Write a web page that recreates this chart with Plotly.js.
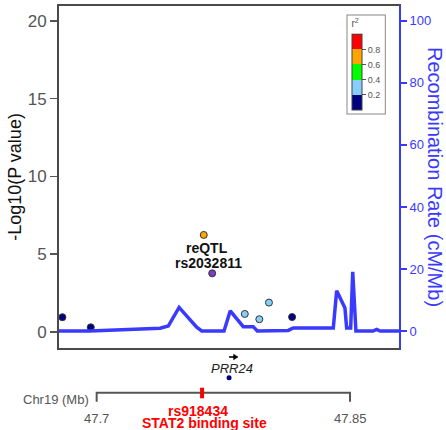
<!DOCTYPE html>
<html>
<head>
<meta charset="utf-8">
<script src="https://cdn.plot.ly/plotly-3.0.1.min.js"></script>
<style>html,body{margin:0;padding:0;background:#fff;}#chart{width:446px;height:430px;}</style>
</head>
<body>
<div id="chart"></div>
<script>
// ---- data ----
var snpPos   = [47.6797, 47.6965, 47.7634, 47.7877, 47.7963, 47.8020, 47.8157];
var snpLogP  = [0.95, 0.30, 6.24, 1.16, 0.82, 1.89, 0.96];
var snpR2    = [0.1, 0.1, 0.7, 0.3, 0.3, 0.3, 0.1];

var leadName = "rs2032811";
var leadLabel = "reQTL";
var leadPos  = [47.7684];
var leadLogP = [3.77];

var recPos  = [47.6777, 47.6960, 47.7375, 47.7424, 47.7488, 47.7592, 47.7622, 47.7754, 47.7791, 47.7868, 47.7927, 47.7951, 47.8134, 47.8164, 47.8401, 47.8421, 47.8470, 47.8480, 47.8504, 47.8516, 47.8535, 47.8636, 47.8658, 47.8678, 47.8790];
var recRate = [0, 0, 0.9, 1.6, 7.6, 1.2, 0, 0, 6.5, 1.4, 1.4, 0, 0.2, 1.0, 1.0, 13.0, 7.4, 1.0, 1.0, 19.1, 0, 0, 0.5, 0, 0];

var geneName = "PRR24";
var genePos = 47.7784;

var chrLabel = "Chr19 (Mb)";
var chrTicks = [47.7, 47.85];
var chrTickText = ["47.7", "47.85"];

var tfbsPos = 47.7624;
var tfbsName = "rs918434";
var tfbsDesc = "STAT2 binding site";

var pTicks = [0, 5, 10, 15, 20];
var recTicks = [0, 20, 40, 60, 80, 100];
var r2Ticks = [0.2, 0.4, 0.6, 0.8];
var r2Colors = ["#000080", "#87CEFA", "#00FF00", "#FFA500", "#FF0000"];

// ---- build ----
var blue = "rgb(58,58,255)";
var grey = "#555555";
var FONT = "Liberation Sans, Arial, sans-serif";

var cs = [];
for (var i = 0; i < r2Colors.length; i++) {
  cs.push([i / r2Colors.length, r2Colors[i]]);
  cs.push([(i + 1) / r2Colors.length, r2Colors[i]]);
}

var traces = [
  {
    x: recPos, y: recRate, yaxis: "y2", type: "scatter", mode: "lines",
    line: {color: blue, width: 3.5}, hoverinfo: "skip", showlegend: false
  },
  {
    x: snpPos, y: snpLogP, type: "scatter", mode: "markers", showlegend: false,
    marker: {
      size: 7, color: snpR2, cmin: 0, cmax: 1, colorscale: cs,
      line: {color: "#333", width: 1},
      showscale: true,
      colorbar: {
        x: 0.850, xanchor: "left", y: 0.9737, yanchor: "top",
        lenmode: "pixels", len: 97, thickness: 10, xpad: 4, ypad: 2,
        outlinewidth: 1, outlinecolor: "#444",
        bgcolor: "#fff", bordercolor: "#888", borderwidth: 1,
        tickvals: r2Ticks, ticktext: r2Ticks.map(function(v){return v.toFixed(1);}),
        ticks: "outside", ticklen: 4, tickcolor: grey, tickwidth: 1,
        tickfont: {family: FONT, size: 9, color: grey},
        title: {text: "r<sup>2</sup>", side: "top", font: {family: FONT, size: 10, color: grey}}
      }
    }
  },
  {
    x: leadPos, y: leadLogP, type: "scatter", mode: "markers", showlegend: false,
    marker: {size: 7, color: "#7b3cc0", line: {color: "#333", width: 1}}
  }
];

var chrPath = "M " + chrTicks[0] + ",-0.157 L " + chrTicks[0] + ",-0.1307 L " +
              chrTicks[1] + ",-0.1307 L " + chrTicks[1] + ",-0.157";

var shapes = [
  {type: "path", xref: "x", yref: "paper", path: chrPath, line: {color: grey, width: 2}},
  {type: "line", xref: "x", yref: "paper", x0: tfbsPos, x1: tfbsPos, y0: -0.1161, y1: -0.1471,
   line: {color: "#FF0000", width: 4}},
  // gene body (small exon dot)
  {type: "circle", xref: "x", yref: "paper", xsizemode: "pixel", ysizemode: "pixel",
   xanchor: genePos, yanchor: -0.0869, x0: -2.5, x1: 2.5, y0: -2.5, y1: 2.5,
   fillcolor: "#000080", line: {width: 0}},
  // strand arrow
  {type: "path", xref: "x", yref: "paper", xsizemode: "pixel", ysizemode: "pixel",
   xanchor: genePos, yanchor: -0.0263, path: "M 0,0 L 5,0",
   line: {color: "#000", width: 1.6}},
  {type: "path", xref: "x", yref: "paper", xsizemode: "pixel", ysizemode: "pixel",
   xanchor: genePos, yanchor: -0.0263, path: "M 4.5,-2.8 L 9,0 L 4.5,2.8 Z",
   fillcolor: "#000", line: {color: "#000", width: 0.5}}
];

var annotations = [
  {x: leadPos[0], y: leadLogP[0], xref: "x", yref: "y", text: "<b>" + leadLabel + "</b>",
   showarrow: false, yshift: 25, xshift: -5, font: {family: FONT, size: 14, color: "#111"}},
  {x: leadPos[0], y: leadLogP[0], xref: "x", yref: "y", text: "<b>" + leadName + "</b>",
   showarrow: false, yshift: 10, xshift: -4, font: {family: FONT, size: 14, color: "#111"}},
  {x: genePos, y: -0.0614, xref: "x", yref: "paper", yanchor: "middle", text: "<i>" + geneName + "</i>",
   showarrow: false, xshift: 3, font: {family: FONT, size: 13, color: "#222"}},
  {x: 0.094, y: -0.150, xref: "paper", yref: "paper", xanchor: "right", yanchor: "middle", text: chrLabel,
   showarrow: false, font: {family: FONT, size: 13, color: grey}},
  {x: chrTicks[0], y: -0.2076, xref: "x", yref: "paper", yanchor: "middle", text: chrTickText[0],
   showarrow: false, font: {family: FONT, size: 13, color: grey}},
  {x: chrTicks[1], y: -0.2076, xref: "x", yref: "paper", yanchor: "middle", text: chrTickText[1],
   showarrow: false, font: {family: FONT, size: 13, color: grey}},
  {x: tfbsPos, y: -0.1833, xref: "x", yref: "paper", yanchor: "middle", text: "<b>" + tfbsName + "</b>",
   showarrow: false, xshift: -4, font: {family: FONT, size: 14, color: "#FF0000"}},
  {x: tfbsPos, y: -0.2200, xref: "x", yref: "paper", yanchor: "middle", text: "<b>" + tfbsDesc + "</b>",
   showarrow: false, xshift: 2, font: {family: FONT, size: 14, color: "#FF0000"}},
  {x: 1.106, y: 0.5, xref: "paper", yref: "paper", xanchor: "center", yanchor: "middle",
   text: "Recombination Rate (cM/Mb)",
   textangle: 90, showarrow: false, font: {family: FONT, size: 20, color: blue}}
];

var layout = {
  width: 446, height: 430,
  margin: {l: 59, r: 47, t: 6, b: 82},
  paper_bgcolor: "#fff", plot_bgcolor: "#fff",
  font: {family: FONT},
  showlegend: false,
  xaxis: {
    range: [47.6777, 47.879], showticklabels: false, ticks: "", showgrid: false, zeroline: false,
    showline: true, mirror: true, linecolor: "#4a4a4a", linewidth: 2
  },
  yaxis: {
    range: [-1.03, 20.96], tickvals: pTicks, ticks: "outside", ticklen: 7, tickwidth: 1.5,
    tickcolor: grey, tickfont: {family: FONT, size: 17, color: grey},
    showgrid: false, zeroline: false, showline: true, mirror: true, linecolor: "#4a4a4a", linewidth: 2,
    title: {text: "-Log10(P value)", font: {family: FONT, size: 18, color: "#111"}, standoff: 1}
  },
  yaxis2: {
    overlaying: "y", side: "right", range: [-5.48, 104.8], tickvals: recTicks,
    ticks: "outside", ticklen: 6, tickwidth: 1.5, tickcolor: blue,
    tickfont: {family: FONT, size: 13, color: blue},
    showgrid: false, zeroline: false, showline: true, linecolor: blue, linewidth: 2
  },
  shapes: shapes,
  annotations: annotations
};

Plotly.newPlot("chart", traces, layout, {displayModeBar: false, staticPlot: true});
</script>
</body>
</html>
